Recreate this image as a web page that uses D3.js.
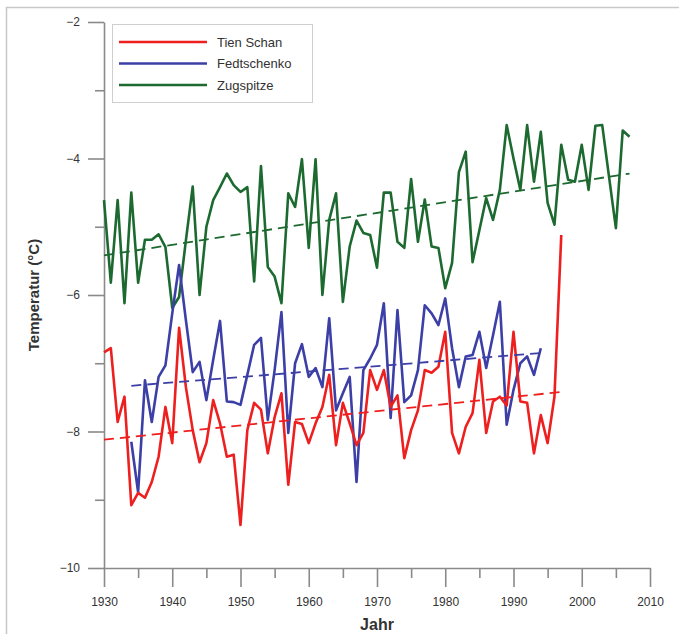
<!DOCTYPE html>
<html>
<head>
<meta charset="utf-8">
<script src="https://cdn.jsdelivr.net/npm/d3@7"></script>
<style>
  body { margin: 0; background: #fff; }
  svg text { font-family: "Liberation Sans", Arial, sans-serif; }
</style>
</head>
<body>
<svg id="chart" width="679" height="634"></svg>
<script>
// ---- data ----
const yearsTien = d3.range(1930, 1998);
const tienSchan = [
  -6.84, -6.78, -7.86, -7.49, -9.08, -8.90, -8.97, -8.74, -8.37, -7.64,
  -8.17, -6.48, -7.35, -7.98, -8.45, -8.17, -7.54, -7.88, -8.37, -8.34,
  -9.37, -7.98, -7.58, -7.68, -8.32, -7.79, -7.44, -8.78, -7.86, -7.89,
  -8.17, -7.88, -7.64, -7.17, -8.20, -7.58, -7.88, -8.20, -8.02, -7.10,
  -7.39, -7.10, -7.64, -7.47, -8.39, -7.98, -7.69, -7.10, -7.14, -7.05,
  -6.54, -8.02, -8.32, -7.93, -7.73, -6.95, -8.02, -7.56, -7.49, -7.62,
  -6.54, -7.56, -7.58, -8.32, -7.76, -8.17, -7.49, -5.12
];

const yearsFed = d3.range(1934, 1995);
const fedtschenko = [
  -8.15, -8.89, -7.25, -7.86, -7.20, -7.03, -6.27, -5.56, -6.37, -7.13,
  -6.98, -7.54, -6.95, -6.38, -7.56, -7.57, -7.61, -7.17, -6.73, -6.63,
  -7.83, -7.10, -6.25, -8.02, -7.00, -6.72, -7.20, -7.07, -7.35, -6.34,
  -7.69, -7.44, -7.20, -8.74, -7.10, -6.93, -6.73, -6.12, -7.80, -6.22,
  -7.57, -7.47, -7.10, -6.15, -6.27, -6.44, -6.05, -6.78, -7.35, -6.90,
  -6.88, -6.54, -7.07, -6.59, -6.10, -7.90, -7.39, -7.00, -6.90, -7.17,
  -6.78
];

const yearsZug = d3.range(1930, 2008);
const zugspitze = [
  -4.61, -5.82, -4.61, -6.12, -4.50, -5.82, -5.19, -5.19, -5.11, -5.30,
  -6.19, -6.03, -5.20, -4.41, -6.00, -5.00, -4.61, -4.42, -4.22, -4.39,
  -4.49, -4.42, -5.80, -4.11, -5.59, -5.73, -6.12, -4.51, -4.71, -4.01,
  -5.31, -4.01, -6.00, -4.90, -4.51, -6.10, -5.29, -4.91, -5.09, -5.12,
  -5.60, -4.50, -4.50, -5.22, -5.31, -4.30, -5.22, -4.60, -5.29, -5.31,
  -5.90, -5.53, -4.20, -3.90, -5.52, -5.05, -4.58, -4.90, -4.46, -3.51,
  -4.00, -4.46, -3.51, -4.34, -3.61, -4.65, -4.97, -3.80, -4.31, -4.34,
  -3.80, -4.46, -3.52, -3.51, -4.27, -5.02, -3.59, -3.68
];

// linear trend lines: [startYear, startValue, endYear, endValue]
const trendTien = [1930, -8.12, 1997, -7.42];
const trendFed = [1934, -7.33, 1994, -6.85];
const trendZug = [1930, -5.42, 2007, -4.22];

const seriesNames = ['Tien Schan', 'Fedtschenko', 'Zugspitze'];
const seriesColors = ['#ee1f1f', '#3c3fa6', '#1d6a30'];

const xMajor = d3.range(1930, 2011, 10);
const xMinor = d3.range(1935, 2010, 10);
const yMajor = [-2, -4, -6, -8, -10];
const yMinor = [-3, -5, -7, -9];

// ---- layout ----
const svg = d3.select('#chart');
const axisColor = '#8a8a8a';
const textColor = '#333';

// outer frame (only top and left edges fall inside the picture)
svg.append('rect')
  .attr('x', 6.5).attr('y', 7.5)
  .attr('width', 700).attr('height', 700)
  .attr('fill', 'none')
  .attr('stroke', '#c8c8c8')
  .attr('stroke-width', 1.5);

const x = d3.scaleLinear().domain([1930, 2010]).range([104, 650]);
const y = d3.scaleLinear().domain([-10, -2]).range([568, 22]);

// axes
const gx = svg.append('g').attr('transform', `translate(0,${y(-10)})`);
gx.call(d3.axisBottom(x).tickValues(xMajor).tickFormat(d3.format('d')).tickSize(19).tickPadding(10).tickSizeOuter(0));
const gxMinor = svg.append('g').attr('transform', `translate(0,${y(-10)})`);
gxMinor.call(d3.axisBottom(x).tickValues(xMinor).tickFormat('').tickSize(10).tickSizeOuter(0));

const gy = svg.append('g').attr('transform', `translate(${x(1930)},0)`);
gy.call(d3.axisLeft(y).tickValues(yMajor).tickFormat(d3.format('d')).tickSize(16).tickPadding(8).tickSizeOuter(0));
const gyMinor = svg.append('g').attr('transform', `translate(${x(1930)},0)`);
gyMinor.call(d3.axisLeft(y).tickValues(yMinor).tickFormat('').tickSize(9).tickSizeOuter(0));

[gx, gxMinor, gy, gyMinor].forEach((g) => {
  g.selectAll('path, line').attr('stroke', axisColor).attr('stroke-width', 1.6);
  g.selectAll('text').attr('fill', textColor).attr('font-size', 12)
    .attr('font-family', '"Liberation Sans", Arial, sans-serif');
});
gxMinor.select('.domain').remove();
gyMinor.select('.domain').remove();

// axis titles
svg.append('text')
  .attr('x', x(1970)).attr('y', 630)
  .attr('text-anchor', 'middle')
  .attr('font-size', 16).attr('font-weight', 'bold')
  .attr('fill', textColor)
  .text('Jahr');

svg.append('text')
  .attr('transform', `translate(39,${y(-6)}) rotate(-90)`)
  .attr('text-anchor', 'middle')
  .attr('font-size', 15).attr('font-weight', 'bold')
  .attr('fill', textColor)
  .text('Temperatur (°C)');

// series
const line = d3.line().x((d) => x(d[0])).y((d) => y(d[1]));

const allSeries = [
  { years: yearsTien, values: tienSchan, trend: trendTien },
  { years: yearsFed, values: fedtschenko, trend: trendFed },
  { years: yearsZug, values: zugspitze, trend: trendZug }
];

// draw order: green at the back, red on top
[2, 1, 0].forEach((i) => {
  const s = allSeries[i];
  svg.append('path')
    .datum(s.years.map((yr, k) => [yr, s.values[k]]))
    .attr('d', line)
    .attr('fill', 'none')
    .attr('stroke', seriesColors[i])
    .attr('stroke-width', 2.6)
    .attr('stroke-linejoin', 'round');
});

[2, 1, 0].forEach((i) => {
  const t = allSeries[i].trend;
  svg.append('path')
    .datum([[t[0], t[1]], [t[2], t[3]]])
    .attr('d', line)
    .attr('fill', 'none')
    .attr('stroke', seriesColors[i])
    .attr('stroke-width', 1.8)
    .attr('stroke-dasharray', '10,6');
});

// legend
const legend = svg.append('g');
legend.append('rect')
  .attr('x', 112.5).attr('y', 24.5)
  .attr('width', 200).attr('height', 78)
  .attr('fill', '#fff')
  .attr('stroke', '#cfcfcf')
  .attr('stroke-width', 1);

seriesNames.forEach((name, i) => {
  const ly = 42 + i * 21.5;
  legend.append('line')
    .attr('x1', 119).attr('x2', 207)
    .attr('y1', ly).attr('y2', ly)
    .attr('stroke', seriesColors[i])
    .attr('stroke-width', 2.6);
  legend.append('text')
    .attr('x', 217).attr('y', ly + 4.5)
    .attr('font-size', 13)
    .attr('fill', textColor)
    .text(name);
});
</script>
</body>
</html>
